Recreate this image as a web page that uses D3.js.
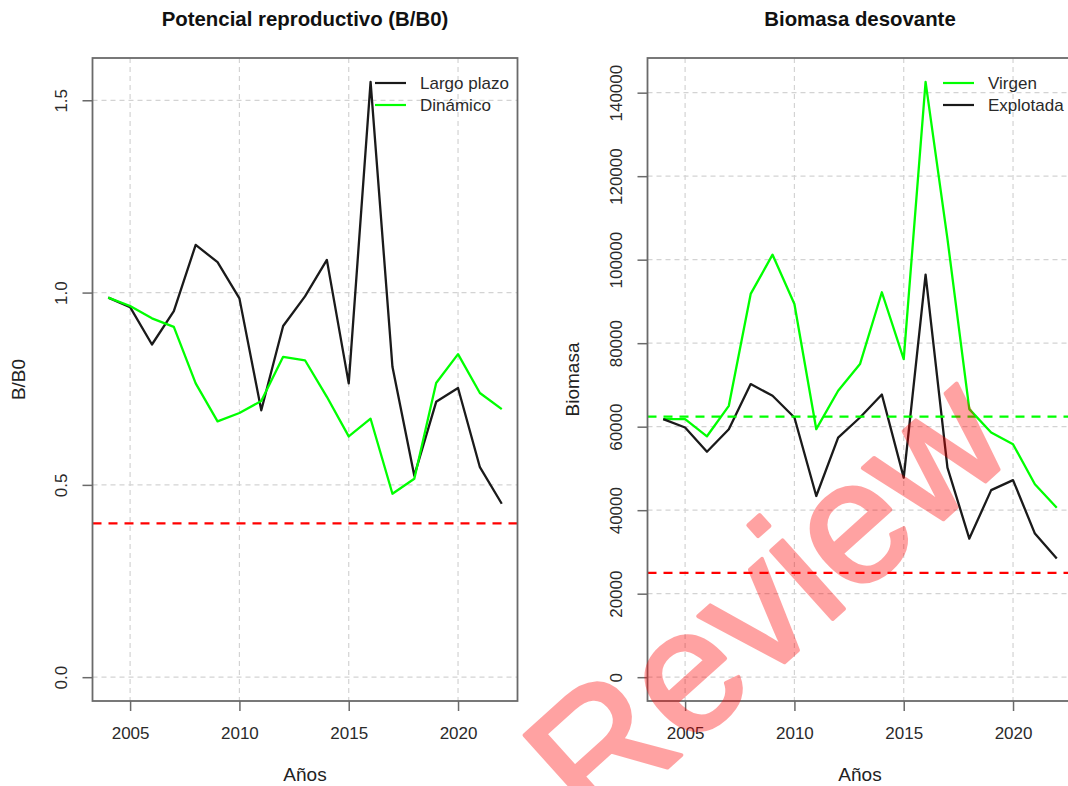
<!DOCTYPE html>
<html>
<head>
<meta charset="utf-8">
<script src="https://cdn.jsdelivr.net/npm/d3@7"></script>
<style>
  html, body { margin: 0; padding: 0; background: #ffffff; }
  svg { display: block; font-family: "Liberation Sans", Arial, Helvetica, sans-serif; }
</style>
</head>
<body>
<svg id="chart" width="1068" height="786"></svg>
<script>
// Años de la serie
const years = [2004, 2005, 2006, 2007, 2008, 2009, 2010, 2011, 2012, 2013,
               2014, 2015, 2016, 2017, 2018, 2019, 2020, 2021, 2022];

// Potencial reproductivo (B/B0)
const largoPlazo = [0.987, 0.962, 0.865, 0.952, 1.124, 1.079, 0.985, 0.694, 0.913, 0.990,
                    1.085, 0.764, 1.548, 0.807, 0.524, 0.716, 0.752, 0.546, 0.451];
const dinamico   = [0.987, 0.965, 0.933, 0.911, 0.764, 0.665, 0.687, 0.718, 0.833, 0.824,
                    0.729, 0.626, 0.672, 0.477, 0.516, 0.765, 0.840, 0.739, 0.697];

// Biomasa desovante (t)
const virgen    = [61800, 61800, 57700, 65000, 91800, 101200, 89400, 59400, 68600, 75000,
                   92200, 76200, 142600, 105000, 64200, 58600, 55800, 46200, 40600];
const explotada = [61800, 59800, 54000, 59400, 70200, 67400, 62200, 43400, 57400, 62200,
                   67700, 47800, 96400, 50200, 33200, 44800, 47200, 34400, 28400];

// Puntos de referencia
const limiteBB0 = 0.4;        // 40% B0
const b0Biomasa = 62400;      // B0
const limiteBiomasa = 24960;  // 40% B0

// Marcas de los ejes
const xTicks = [2005, 2010, 2015, 2020];
const yTicksBB0 = [0.0, 0.5, 1.0, 1.5];
const yTicksBiomasa = [0, 20000, 40000, 60000, 80000, 100000, 120000, 140000];

const svg = d3.select("#chart");
const TOP = 58, BOTTOM = 701;
const FONT = 17;

// Rango extendido 4% a cada lado, como en los gráficos base de R
function padded(lo, hi) {
  const r = hi - lo;
  return [lo - 0.04 * r, hi + 0.04 * r];
}

function drawPanel(cfg) {
  const x = d3.scaleLinear()
    .domain(padded(d3.min(years), d3.max(years)))
    .range([cfg.left, cfg.right]);
  const yMax = d3.max(cfg.series.flatMap(s => s.values));
  const y = d3.scaleLinear()
    .domain(padded(0, yMax))
    .range([BOTTOM, TOP]);

  const g = svg.append("g");

  // Rejilla punteada
  g.append("g").selectAll("line").data(xTicks).join("line")
    .attr("x1", d => x(d)).attr("x2", d => x(d))
    .attr("y1", TOP).attr("y2", BOTTOM)
    .attr("stroke", "#d3d3d3").attr("stroke-width", 1.2)
    .attr("stroke-dasharray", "5,4");
  g.append("g").selectAll("line").data(cfg.yTicks).join("line")
    .attr("x1", cfg.left).attr("x2", cfg.right)
    .attr("y1", d => y(d)).attr("y2", d => y(d))
    .attr("stroke", "#d3d3d3").attr("stroke-width", 1.2)
    .attr("stroke-dasharray", "5,4");

  // Series
  const line = d3.line()
    .x((d, i) => x(years[i]))
    .y(d => y(d));
  cfg.series.forEach(s => {
    g.append("path")
      .datum(s.values)
      .attr("fill", "none")
      .attr("stroke", s.color)
      .attr("stroke-width", 2.3)
      .attr("stroke-linejoin", "round")
      .attr("d", line);
  });

  // Líneas de referencia
  cfg.hlines.forEach(h => {
    g.append("line")
      .attr("x1", cfg.left).attr("x2", cfg.right)
      .attr("y1", y(h.value)).attr("y2", y(h.value))
      .attr("stroke", h.color).attr("stroke-width", 2.2)
      .attr("stroke-dasharray", "9,7");
  });

  // Marco
  g.append("rect")
    .attr("x", cfg.left).attr("y", TOP)
    .attr("width", cfg.right - cfg.left).attr("height", BOTTOM - TOP)
    .attr("fill", "none").attr("stroke", "#6a6a6a").attr("stroke-width", 1.8);

  // Eje X
  const ax = g.append("g")
    .attr("transform", `translate(0,${BOTTOM})`)
    .call(d3.axisBottom(x).tickValues(xTicks).tickSize(10).tickFormat(d3.format("d")));
  ax.select(".domain").remove();
  ax.selectAll(".tick line").attr("stroke", "#6a6a6a").attr("stroke-width", 1.5);
  ax.selectAll(".tick text")
    .attr("y", 38).attr("dy", 0)
    .attr("font-size", FONT).attr("fill", "#2a2a2a")
    .attr("font-family", null);

  // Eje Y
  const ay = g.append("g")
    .attr("transform", `translate(${cfg.left},0)`)
    .call(d3.axisLeft(y).tickValues(cfg.yTicks).tickSize(10).tickFormat(cfg.fmt));
  ay.select(".domain").remove();
  ay.selectAll(".tick line").attr("stroke", "#6a6a6a").attr("stroke-width", 1.5);
  ay.selectAll(".tick text")
    .attr("x", 0).attr("y", -26).attr("dy", 0)
    .attr("transform", "rotate(-90)")
    .attr("text-anchor", "middle")
    .attr("font-size", FONT).attr("fill", "#2a2a2a")
    .attr("font-family", null);

  const cx = (cfg.left + cfg.right) / 2;
  const cy = (TOP + BOTTOM) / 2;

  // Títulos
  svg.append("text")
    .attr("x", cx).attr("y", 26)
    .attr("text-anchor", "middle")
    .attr("font-size", 20.4).attr("font-weight", "bold").attr("fill", "#111")
    .text(cfg.title);
  svg.append("text")
    .attr("x", cx).attr("y", 781)
    .attr("text-anchor", "middle")
    .attr("font-size", 19).attr("fill", "#222")
    .text("Años");
  svg.append("text")
    .attr("transform", `translate(${cfg.ylabX},${cy}) rotate(-90)`)
    .attr("text-anchor", "middle")
    .attr("font-size", 19).attr("fill", "#222")
    .text(cfg.ylab);

  // Leyenda
  cfg.legend.forEach((l, i) => {
    const ly = 83 + i * 22;
    g.append("line")
      .attr("x1", cfg.legendX).attr("x2", cfg.legendX + 31)
      .attr("y1", ly).attr("y2", ly)
      .attr("stroke", l.color).attr("stroke-width", 2.2);
    g.append("text")
      .attr("x", cfg.legendX + 45).attr("y", ly + 6)
      .attr("font-size", FONT).attr("fill", "#2a2a2a")
      .text(l.label);
  });
}

drawPanel({
  left: 92.5, right: 517.5,
  title: "Potencial reproductivo (B/B0)",
  ylab: "B/B0", ylabX: 25,
  yTicks: yTicksBB0, fmt: d3.format(".1f"),
  series: [
    { values: largoPlazo, color: "#1a1a1a" },
    { values: dinamico,   color: "#00ff00" }
  ],
  hlines: [{ value: limiteBB0, color: "#ff0000" }],
  legend: [
    { label: "Largo plazo", color: "#1a1a1a" },
    { label: "Dinámico",    color: "#00ff00" }
  ],
  legendX: 375
});

drawPanel({
  left: 647.5, right: 1072.5,
  title: "Biomasa desovante",
  ylab: "Biomasa", ylabX: 579,
  yTicks: yTicksBiomasa, fmt: d3.format("d"),
  series: [
    { values: virgen,    color: "#00ff00" },
    { values: explotada, color: "#1a1a1a" }
  ],
  hlines: [
    { value: b0Biomasa,     color: "#00ff00" },
    { value: limiteBiomasa, color: "#ff0000" }
  ],
  legend: [
    { label: "Virgen",    color: "#00ff00" },
    { label: "Explotada", color: "#1a1a1a" }
  ],
  legendX: 943
});

// Marca de agua
svg.append("g")
  .attr("opacity", 0.36)
  .append("text")
  .attr("transform", "translate(806,643) rotate(-42)")
  .attr("text-anchor", "middle")
  .attr("font-size", 174)
  .attr("fill", "#ff0000")
  .attr("stroke", "#ff0000")
  .attr("stroke-width", 4)
  .attr("stroke-linejoin", "round")
  .text("Review");
</script>
</body>
</html>
